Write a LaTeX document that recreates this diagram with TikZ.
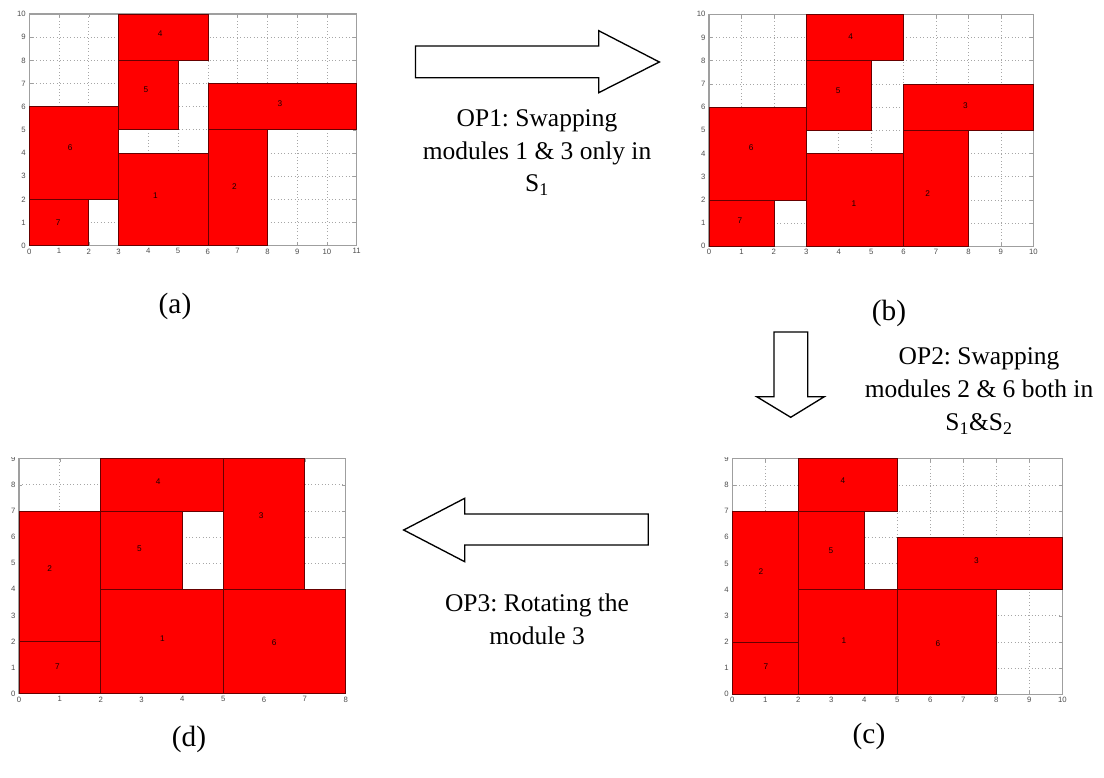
\documentclass[tikz,border=0pt]{standalone}
\usepackage{fontspec}
\setmainfont{Liberation Serif}
\newfontfamily\plotfont{Liberation Sans}
\frenchspacing
\tikzset{
  gridline/.style={gray!70,line width=0.55pt,dotted},
  frameline/.style={draw=gray!75,line width=0.9pt},
  tickline/.style={draw=gray!75,line width=0.4pt},
  module/.style={fill=red,draw=black!60!red,line width=0.55pt},
  ticklabel/.style={font=\plotfont\fontsize{5.8}{7}\selectfont,text=black!70,inner sep=0pt},
  modlabel/.style={font=\plotfont\fontsize{6.2}{7}\selectfont,text=black!90!red,inner sep=0pt},
  bigarrow/.style={draw=black,fill=white,line width=1pt,line join=miter},
  optext/.style={font=\fontsize{19.1}{24.4}\selectfont,align=center,inner sep=0pt,anchor=base},
  caption/.style={font=\fontsize{22}{26}\selectfont,inner sep=0pt,anchor=base}
}
\newcommand{\plotpanel}[9]{%
  \pgfmathsetmacro{\ux}{(#3-#2)/#6*0.75}
  \pgfmathsetmacro{\uy}{(#4-#5)/#7*0.75}
  \begin{scope}[shift={(#2,#4)},x=\ux pt,y=\uy pt]
    \foreach \i in {1,...,#6} {\draw[gridline] (\i,0) -- (\i,#7);}
    \foreach \j in {1,...,#7} {\draw[gridline] (0,\j) -- (#6,\j);}
    \foreach \i in {0,...,#6} {
      \draw[tickline] (\i,0) -- ++(0,2.5pt);
      \draw[tickline] (\i,#7) -- ++(0,-2.5pt);
      \node[ticklabel,anchor=north] (#1x\i) at ([yshift=-2pt]\i,0) {\i};
    }
    \foreach \j in {0,...,#7} {
      \draw[tickline] (0,\j) -- ++(2.5pt,0);
      \draw[tickline] (#6,\j) -- ++(-2.5pt,0);
    }
    \begin{scope}
      \clip (-3,-2) rectangle (#6+1,#7+\toppad);
      \foreach \j in {0,...,#7} {
        \node[ticklabel,anchor=east] (#1y\j) at ([xshift=-2.5pt]0,\j) {\j};
      }
    \end{scope}
    \draw[frameline] (0,0) rectangle (#6,#7);
    \foreach \xa/\ya/\xb/\yb in {#8} {\draw[module] (\xa,\ya) rectangle (\xb,\yb);}
    \foreach \lx/\ly/\t in {#9} {\node[modlabel] (#1m\t) at (\lx,\ly) {\t};}
  \end{scope}
}
\begin{document}
\begin{tikzpicture}[x=0.75pt,y=-0.75pt]
\useasboundingbox (0,0) rectangle (1104,778);
\def\toppad{0.5}
\plotpanel{a}{29.3}{356.7}{245.7}{14}{11}{10}
  {0/0/2/2,0/2/3/6,3/0/6/4,6/0/8/5,6/5/11/7,3/5/5/8,3/8/6/10}
  {0.97/0.99/7,1.37/4.23/6,4.24/2.14/1,6.89/2.55/2,8.42/6.13/3,3.92/6.75/5,4.4/9.15/4}
\plotpanel{b}{709}{1033.3}{246.3}{14.3}{10}{10}
  {0/0/2/2,0/2/3/6,3/0/6/4,6/0/8/5,6/5/10/7,3/5/5/8,3/8/6/10}
  {0.95/1.09/7,1.3/4.25/6,4.47/1.82/1,6.74/2.27/2,7.91/6.07/3,3.98/6.71/5,4.37/9.04/4}
\def\toppad{0.03}
\plotpanel{c}{732.3}{1062.3}{694.3}{458.7}{10}{9}
  {0/0/2/2,0/2/2/7,2/0/5/4,5/0/8/4,5/4/10/6,2/4/4/7,2/7/5/9}
  {1.02/1.06/7,0.87/4.68/2,3.38/2.04/1,6.23/1.92/6,7.4/5.11/3,2.99/5.5/5,3.35/8.17/4}
\plotpanel{d}{19}{345.7}{693.7}{458.7}{8}{9}
  {0/0/2/2,0/2/2/7,2/0/5/4,5/0/8/4,5/4/7/9,2/4/4/7,2/7/5/9}
  {0.94/1.02/7,0.75/4.8/2,3.51/2.09/1,6.25/1.97/6,5.93/6.83/3,2.95/5.57/5,3.41/8.13/4}

\draw[bigarrow] (415.5,46) -- (598.7,46) -- (598.7,30.7) -- (659.3,62) -- (598.7,92.7) -- (598.7,77.7) -- (415.5,77.7) -- cycle;
\draw[bigarrow] (774,332) -- (807.7,332) -- (807.7,396.7) -- (824.3,396.7) -- (790.7,417.3) -- (756.7,396.7) -- (774,396.7) -- cycle;
\draw[bigarrow] (648.3,514) -- (464.7,514) -- (464.7,498.3) -- (403.7,530) -- (464.7,561.7) -- (464.7,545) -- (648.3,545) -- cycle;

\node[optext] (op1) at (537,191.7) {OP1: Swapping\\modules 1 \& 3 only in\\S\textsubscript{1}};
\node[optext] (op2) at (979,430) {OP2: Swapping\\modules 2 \& 6 both in\\S\textsubscript{1}\&S\textsubscript{2}};
\node[optext] (op3) at (537,644) {OP3: Rotating the\\module 3};

\node[caption] (capa) at (175,313) {(a)};
\node[caption] (capb) at (889,320) {(b)};
\node[caption] (capc) at (869,743) {(c)};
\node[caption] (capd) at (189,746) {(d)};
\end{tikzpicture}
\end{document}
